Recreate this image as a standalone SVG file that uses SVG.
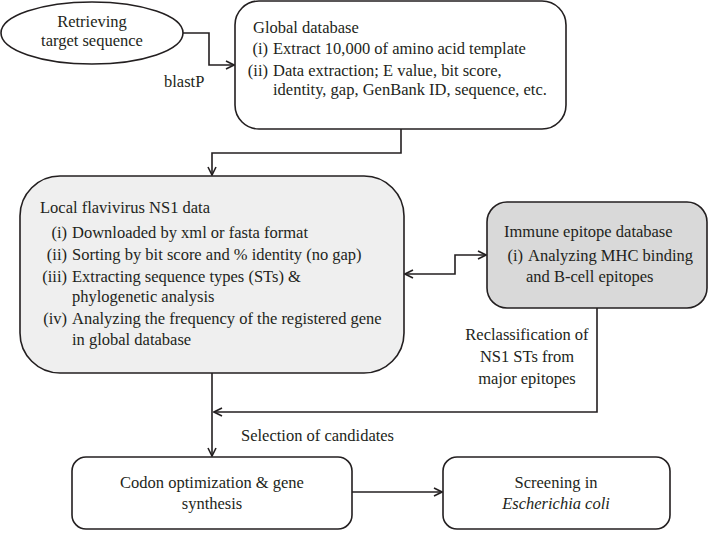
<svg xmlns="http://www.w3.org/2000/svg" width="709" height="545" viewBox="0 0 709 545">
<defs>
<marker id="ah" viewBox="0 0 10 10" refX="9" refY="5" markerWidth="10" markerHeight="10" markerUnits="userSpaceOnUse" orient="auto-start-reverse">
<path d="M1,1 L9,5 L1,9" fill="none" stroke="#231f20" stroke-width="1.6"/>
</marker>
<style>
text{font-family:'Liberation Serif','DejaVu Serif',serif;font-size:16.5px;fill:#231f20}
.c{text-anchor:middle}
.n{text-anchor:end}
.b{stroke:#231f20;stroke-width:1.6}
.ln{fill:none;stroke:#231f20;stroke-width:1.6}
</style>
</defs>
<rect width="709" height="545" fill="#fff"/>
<g id="retrieve">
<ellipse cx="92" cy="33" rx="91" ry="31" fill="#fff" class="b"/>
<text class="c" x="92" y="27">Retrieving</text>
<text class="c" x="92" y="46">target sequence</text>
</g>
<g id="global">
<rect x="235" y="1" width="331" height="128" rx="24" fill="#fff" class="b"/>
<text x="253" y="33">Global database</text>
<text class="n" x="268" y="54">(i)</text>
<text x="273" y="54">Extract 10,000 of amino acid template</text>
<text class="n" x="268" y="76">(ii)</text>
<text x="273" y="76">Data extraction; E value, bit score,</text>
<text x="273" y="95">identity, gap, GenBank ID, sequence, etc.</text>
</g>
<g id="local">
<rect x="20" y="176" width="384" height="197" rx="40" fill="#efefef" class="b"/>
<text x="40" y="213">Local flavivirus NS1 data</text>
<text class="n" x="67" y="238">(i)</text>
<text x="72" y="238">Downloaded by xml or fasta format</text>
<text class="n" x="67" y="260">(ii)</text>
<text x="72" y="260">Sorting by bit score and % identity (no gap)</text>
<text class="n" x="67" y="282">(iii)</text>
<text x="72" y="282">Extracting sequence types (STs) &amp;</text>
<text x="72" y="302">phylogenetic analysis</text>
<text class="n" x="67" y="324">(iv)</text>
<text x="72" y="324">Analyzing the frequency of the registered gene</text>
<text x="72" y="345">in global database</text>
</g>
<g id="immune">
<rect x="487" y="202" width="220" height="106" rx="20" fill="#d9d9d9" class="b"/>
<text x="504" y="237">Immune epitope database</text>
<text class="n" x="523" y="261">(i)</text>
<text x="528" y="261">Analyzing MHC binding</text>
<text x="526" y="282">and B-cell epitopes</text>
</g>
<g id="codon">
<rect x="72" y="457" width="280" height="72" rx="14" fill="#fff" class="b"/>
<text class="c" x="212" y="488">Codon optimization &amp; gene</text>
<text class="c" x="212" y="509">synthesis</text>
</g>
<g id="screening">
<rect x="443" y="457" width="227" height="72" rx="14" fill="#fff" class="b"/>
<text class="c" x="556" y="488">Screening in</text>
<text class="c" x="556" y="509" font-style="italic">Escherichia coli</text>
</g>
<g id="connectors">
<path class="ln" d="M183,33 H209 V65 H234" marker-end="url(#ah)"/>
<path class="ln" d="M401,129 V153 H212 V175" marker-end="url(#ah)"/>
<path class="ln" d="M405,274 H455 V255 H486" marker-start="url(#ah)" marker-end="url(#ah)"/>
<path class="ln" d="M597,308 V412 H214" marker-end="url(#ah)"/>
<path class="ln" d="M212,373 V456" marker-end="url(#ah)"/>
<path class="ln" d="M352,492 H442" marker-end="url(#ah)"/>
</g>
<g id="labels">
<text x="164" y="87">blastP</text>
<text class="c" x="527" y="340">Reclassification of</text>
<text class="c" x="527" y="362">NS1 STs from</text>
<text class="c" x="527" y="384">major epitopes</text>
<text x="241" y="441">Selection of candidates</text>
</g>
</svg>
